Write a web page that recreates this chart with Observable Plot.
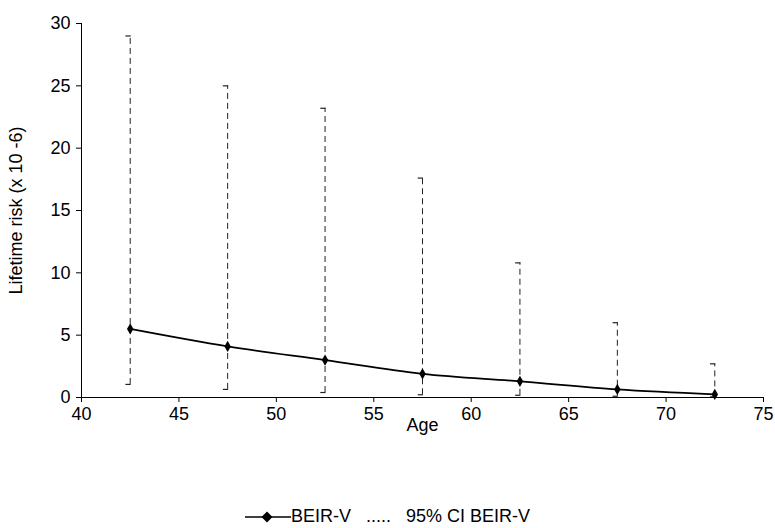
<!DOCTYPE html>
<html>
<head>
<meta charset="utf-8">
<script src="https://cdn.jsdelivr.net/npm/d3@7"></script>
<script src="https://cdn.jsdelivr.net/npm/@observablehq/plot@0.6"></script>
<style>
  body { margin: 0; background: #fff; font-family: "Liberation Sans", Arial, sans-serif; }
  #legend { position: absolute; top: 506px; left: 0; width: 775px; text-align: center; font-size: 18px; color: #000; white-space: pre; }
  #legend svg { vertical-align: -1px; }
</style>
</head>
<body>
<div id="chart"></div>
<div id="legend"><svg width="46" height="12"><line x1="0" y1="6" x2="46" y2="6" stroke="#000" stroke-width="1.5"/><path d="M22 0.5 L27.5 6 L22 11.5 L16.5 6 Z" fill="#000"/></svg>BEIR-V   .....   95% CI BEIR-V</div>
<script>
const ages = [42.5, 47.5, 52.5, 57.5, 62.5, 67.5, 72.5];
const risk = [5.5, 4.1, 3.0, 1.9, 1.3, 0.65, 0.25];
const ciUpper = [29.0, 25.0, 23.2, 17.6, 10.8, 6.0, 2.7];
const ciLower = [1.05, 0.65, 0.4, 0.22, 0.18, 0.1, 0.05];
const xTicks = [40, 45, 50, 55, 60, 65, 70, 75];
const yTicks = [0, 5, 10, 15, 20, 25, 30];

const data = ages.map((a, i) => ({age: a, risk: risk[i], lo: ciLower[i], hi: ciUpper[i]}));
const capW = 0.22;

const plot = Plot.plot({
  width: 775,
  height: 440,
  marginLeft: 81,
  marginRight: 12,
  marginTop: 23,
  marginBottom: 43,
  style: {fontFamily: "Liberation Sans, Arial, sans-serif", fontSize: "18px", color: "#000", background: "#fff"},
  x: {domain: [40, 75], ticks: xTicks},
  y: {domain: [0, 30], ticks: yTicks},
  marks: [
    Plot.ruleX(data, {x: "age", y1: "lo", y2: "hi", stroke: "#222", strokeWidth: 1, strokeDasharray: "6,4"}),
    Plot.ruleY(data, {y: "hi", x1: d => d.age - capW, x2: d => d.age + 0.05, stroke: "#222", strokeWidth: 1.2}),
    Plot.ruleY(data, {y: "lo", x1: d => d.age - capW, x2: d => d.age + 0.05, stroke: "#222", strokeWidth: 1.2}),
    Plot.line(data, {x: "age", y: "risk", curve: "catmull-rom", stroke: "#000", strokeWidth: 1.7}),
    Plot.dot(data, {x: "age", y: "risk", symbol: "diamond", r: 3.4, fill: "#000", stroke: "none"}),
    Plot.ruleX([40], {stroke: "#000"}),
    Plot.ruleY([0], {stroke: "#000"}),
    Plot.axisX({ticks: xTicks, tickSize: 5, tickPadding: 5, label: "Age", labelAnchor: "center", labelArrow: "none", labelOffset: 33, fontSize: 18}),
    Plot.axisY({ticks: yTicks, tickSize: 5, tickPadding: 6, label: "Lifetime risk (x 10 -6)", labelAnchor: "center", labelArrow: "none", labelOffset: 72, fontSize: 18})
  ]
});
document.getElementById("chart").appendChild(plot);
</script>
</body>
</html>
